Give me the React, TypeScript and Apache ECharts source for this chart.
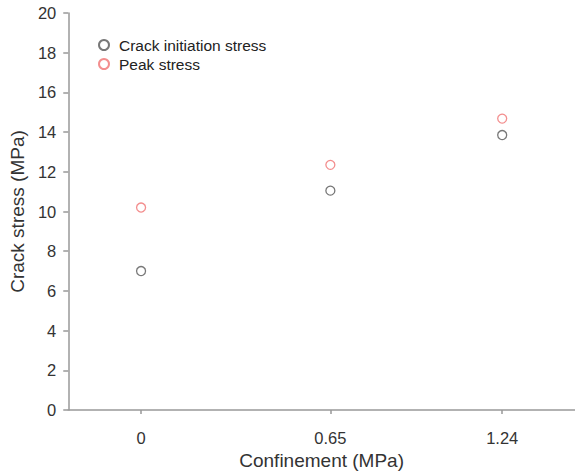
import React, { useEffect, useRef } from "react";
import * as echarts from "echarts";

const confinement = [0, 0.65, 1.24];
const crackInitiation = [7.0, 11.05, 13.85];
const peakStress = [10.2, 12.35, 14.68];
const xTickValues = [0, 0.65, 1.24];
const seriesNames = ["Crack initiation stress", "Peak stress"];

export default function App() {
  const ref = useRef<HTMLDivElement>(null);
  useEffect(() => {
    if (!ref.current) return;
    const chart = echarts.init(ref.current, null, { renderer: "svg" });
    const font = "Liberation Sans, Arial, sans-serif";
    const mk = (vals: number[]) => confinement.map((c, i) => [c, vals[i]]);
    chart.setOption({
      animation: false,
      backgroundColor: "#ffffff",
      textStyle: { fontFamily: font },
      grid: { left: 66, right: 0, top: 13, bottom: 63 },
      legend: {
        orient: "vertical",
        left: 93,
        top: 32,
        itemWidth: 20,
        itemHeight: 10,
        itemGap: 3,
        icon: "circle",
        textStyle: { fontSize: 15.5, color: "#222", fontFamily: font },
        data: seriesNames,
      },
      xAxis: {
        type: "value",
        min: -0.25,
        max: 1.49,
        name: "Confinement (MPa)",
        nameLocation: "middle",
        nameGap: 41,
        nameTextStyle: { fontSize: 19, color: "#333", fontFamily: font },
        axisLine: { show: true, onZero: false, lineStyle: { color: "#999", width: 1.5 } },
        axisTick: { show: true, customValues: xTickValues, length: 4, lineStyle: { color: "#999", width: 1.5 } },
        axisLabel: {
          customValues: xTickValues,
          formatter: (v: number) => String(v),
          fontSize: 16.5,
          color: "#333",
          margin: 19,
          fontFamily: font,
        },
        splitLine: { show: false },
      },
      yAxis: {
        type: "value",
        min: 0,
        max: 20,
        interval: 2,
        name: "Crack stress (MPa)",
        nameLocation: "middle",
        nameGap: 36,
        nameTextStyle: { fontSize: 19, color: "#333", fontFamily: font },
        axisLine: { show: true, onZero: false, lineStyle: { color: "#999", width: 1.5 } },
        axisTick: { show: true, length: 5, lineStyle: { color: "#999", width: 1.5 } },
        axisLabel: { fontSize: 16.5, color: "#333", margin: 12, fontFamily: font },
        splitLine: { show: false },
      },
      series: [
        {
          name: seriesNames[0],
          type: "scatter",
          symbol: "circle",
          symbolSize: 9,
          data: mk(crackInitiation),
          itemStyle: { color: "#ffffff", borderColor: "#555555", borderWidth: 1.3 },
        },
        {
          name: seriesNames[1],
          type: "scatter",
          symbol: "circle",
          symbolSize: 9,
          data: mk(peakStress),
          itemStyle: { color: "#ffffff", borderColor: "#f07272", borderWidth: 1.3 },
        },
      ],
    });
    return () => chart.dispose();
  }, []);
  return (
    <div
      ref={ref}
      style={{ position: "fixed", left: 0, top: 0, width: 575, height: 475 }}
    />
  );
}
